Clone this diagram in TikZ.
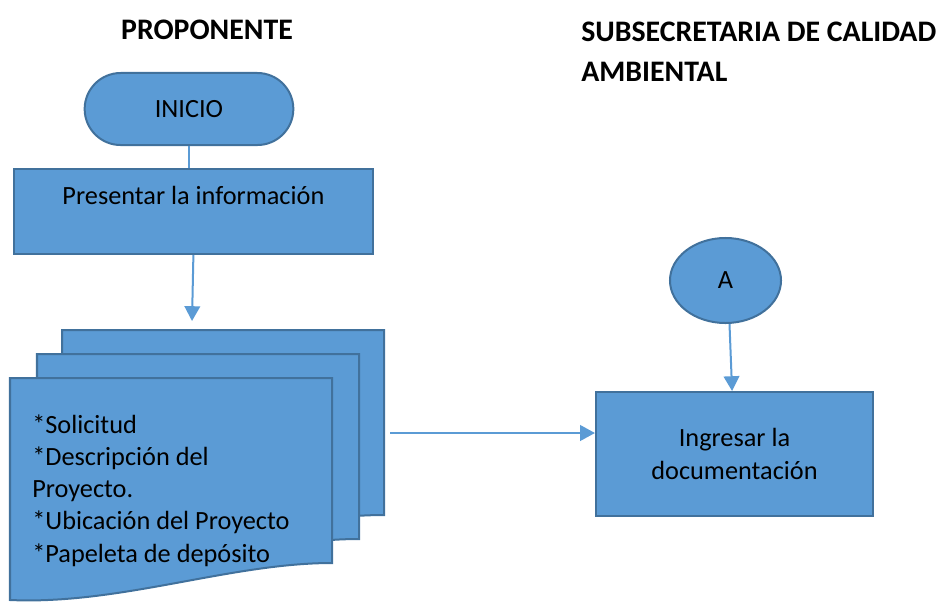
\documentclass[tikz,border=0pt]{standalone}
\usepackage{fontspec}
\setmainfont{Carlito}
\usetikzlibrary{positioning}
\usetikzlibrary{calc}
\usetikzlibrary{arrows.meta}
\usetikzlibrary{shapes.misc}
\usetikzlibrary{shapes.geometric}

\definecolor{boxfill}{HTML}{5B9BD5}
\definecolor{boxline}{HTML}{41719C}

\begin{document}
\begin{tikzpicture}[x=0.025cm, y=-0.025cm,
    every node/.style={font=\fontsize{18.7}{22.9}\selectfont},
    shapebox/.style={fill=boxfill, draw=boxline, line width=0.05cm},
    terminal/.style={shapebox, rounded rectangle, minimum width=5.45cm, minimum height=1.8cm},
    process/.style={shapebox, rectangle, align=center},
    connector/.style={shapebox, ellipse, minimum width=2.775cm, minimum height=2.125cm},
    flow/.style={draw=boxfill, line width=0.05cm},
    flowarrow/.style={flow, -{Triangle[width=0.39cm, length=0.37cm]}},
    heading/.style={font=\fontsize{21.2}{28.4}\selectfont\bfseries, inner sep=0pt}]

    \useasboundingbox (0,0) rectangle (936,601);
    \clip (0,0) rectangle (936,601);

    % headings
    \node[heading] (proponente) at (207,30) {PROPONENTE};
    \node[heading, anchor=north west, align=left] (subsec) at (581,22) {SUBSECRETARIA DE CALIDAD\\AMBIENTAL};

    % proponente
    \node[terminal] (inicio) at (189,109) {INICIO};
    \node[process, minimum width=8.975cm, minimum height=2.125cm, below=0.55cm of inicio, xshift=0.11cm] (presentar) {Presentar la información\\~};

    % documents
    \foreach \dx/\dy in {52/-48, 27/-24, 0/0}
        \draw[shapebox, shift={(\dx,\dy)}] (10,378) -- (332,378) -- (332,563)
            .. controls (230,563) and (120,605) .. (10,600) -- cycle;
    \node[anchor=base west, align=left, inner sep=0pt] (docs) at (32,562)
        {*Solicitud\\{}*Descripción del\\Proyecto.\\{}*Ubicación del Proyecto\\{}*Papeleta de depósito};

    % subsecretaria
    \node[connector] (conA) at (725.5,280.5) {A};
    \node[process, minimum width=6.925cm, minimum height=3.1cm, below=1.675cm of conA, xshift=0.225cm] (ingresar) {Ingresar la\\documentación};

    \coordinate (docin) at (192,321);
    \coordinate (docout) at (390,433);

    \draw[flow] (inicio.south) -- (inicio.south |- presentar.north);
    \draw[flowarrow] (presentar.south) -- (docin);
    \draw[flowarrow] (docout) -- (docout -| ingresar.west);
    \draw[flowarrow] ([xshift=0.1cm]conA.south) -- ([xshift=-0.06cm]ingresar.north);

\end{tikzpicture}
\end{document}
